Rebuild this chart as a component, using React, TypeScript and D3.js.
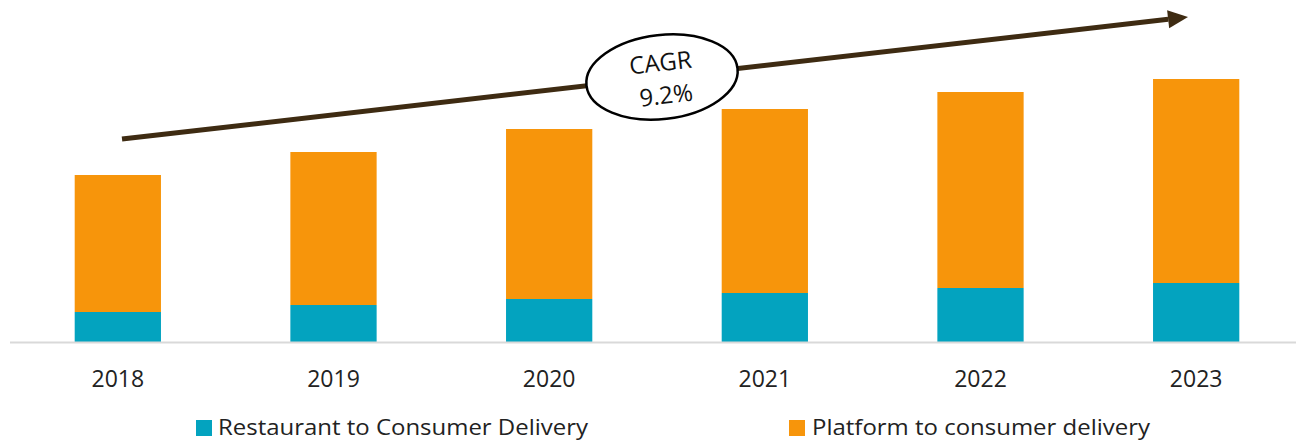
import React from "react";
import * as d3 from "d3";

const years = ["2018", "2019", "2020", "2021", "2022", "2023"];
const restaurant = [30, 37, 43, 49, 54, 59];
const platform = [137, 153, 170, 184, 196, 204];
const seriesNames = ["Restaurant to Consumer Delivery", "Platform to consumer delivery"];
const cagrLabel = ["CAGR", "9.2%"];

const W = 1296;
const H = 442;
const TEAL = "#03a3bf";
const ORANGE = "#f7950b";
const ARROW = "#3e2b12";
const FONT = "'Open Sans', sans-serif";

export default function App() {
  const x = d3.scaleBand<string>().domain(years).range([10, 1304]).paddingInner(0.6).paddingOuter(0.3);
  const y = d3.scaleLinear().domain([0, 300]).range([342, 42]);

  const data = years.map((yr, i) => ({ yr, r: restaurant[i], p: platform[i] }));
  const stack = d3.stack<any>().keys(["r", "p"])(data);
  const colors = [TEAL, ORANGE];

  const ax1 = 122, ay1 = 139, ax2 = 1188, ay2 = 17;
  const ang = Math.atan2(ay2 - ay1, ax2 - ax1);
  const headLen = 20, headW = 9;
  const bx = ax2 - headLen * Math.cos(ang), by = ay2 - headLen * Math.sin(ang);
  const px = -Math.sin(ang), py = Math.cos(ang);
  const head = `M${ax2},${ay2} L${bx + px * headW},${by + py * headW} L${bx - px * headW},${by - py * headW} Z`;

  return (
    <svg width={W} height={H} style={{ position: "absolute", left: 0, top: 0 }}>
      <rect width={W} height={H} fill="#fff" />
      {stack.map((s, si) =>
        s.map((d, i) => (
          <rect
            key={`${si}-${i}`}
            x={x(years[i])}
            y={y(d[1])}
            width={x.bandwidth()}
            height={y(d[0]) - y(d[1])}
            fill={colors[si]}
          />
        ))
      )}
      <line x1={10} x2={W} y1={342.5} y2={342.5} stroke="#d9d9d9" strokeWidth={2} />
      {years.map((yr) => (
        <text
          key={yr}
          x={(x(yr) as number) + x.bandwidth() / 2}
          y={387}
          textAnchor="middle"
          fontFamily={FONT}
          fontSize={23}
          fill="#222"
        >
          {yr}
        </text>
      ))}
      <line x1={ax1} y1={ay1} x2={bx} y2={by} stroke={ARROW} strokeWidth={5} />
      <path d={head} fill={ARROW} />
      <g transform="translate(662,77) rotate(-6.5)">
        <ellipse cx={0} cy={0} rx={76} ry={42} fill="#fff" stroke="#000" strokeWidth={2.5} />
        <text x={0} y={-6} textAnchor="middle" fontFamily={FONT} fontSize={24} fill="#111">
          {cagrLabel[0]}
        </text>
        <text x={2} y={27} textAnchor="middle" fontFamily={FONT} fontSize={24} fill="#111">
          {cagrLabel[1]}
        </text>
      </g>
      <rect x={196} y={420} width={16} height={16} fill={TEAL} />
      <text x={218} y={435} fontFamily={FONT} fontSize={22} fill="#222" textLength={370} lengthAdjust="spacingAndGlyphs">
        {seriesNames[0]}
      </text>
      <rect x={789} y={420} width={16} height={16} fill={ORANGE} />
      <text x={812} y={435} fontFamily={FONT} fontSize={22} fill="#222" textLength={338} lengthAdjust="spacingAndGlyphs">
        {seriesNames[1]}
      </text>
    </svg>
  );
}
